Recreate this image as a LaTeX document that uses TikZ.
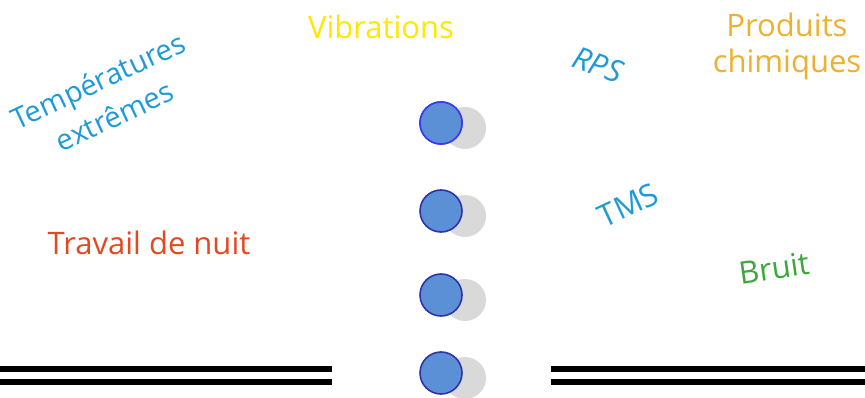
\documentclass[tikz,border=0pt]{standalone}
\usepackage{fontspec}
\setmainfont{Open Sans}
\usepackage{tikz}

\definecolor{knobblue}{HTML}{5B8FD6}
\definecolor{knobedge}{HTML}{2E33A8}
\definecolor{rimblue}{HTML}{3A3AF5}
\definecolor{skyblue}{HTML}{1E9AD8}
\definecolor{sunyellow}{HTML}{FFE800}
\definecolor{amber}{HTML}{EFB030}
\definecolor{brick}{HTML}{E2491F}
\definecolor{leaf}{HTML}{3CA83A}

\begin{document}
\begin{tikzpicture}[x=1pt,y=-1pt,
    knob/.style={circle,fill=knobblue,draw=knobedge,line width=1.6pt,minimum size=42pt,inner sep=0pt},
    shade/.style={circle,fill=black!15,minimum size=42pt,inner sep=0pt},
    word/.style={font=\fontsize{31}{36}\selectfont,align=center,inner sep=0pt}]
    \useasboundingbox (0,0) rectangle (865,398);
    % shadows then knobs
    \foreach \y [count=\i] in {123,211,295,373} {
        \node[shade] (s\i) at (465,\y+5) {};
        \node[knob] (k\i) at (441,\y) {};
    }
    \node[knob,draw=rimblue] at (k1) {};
    % rails
    \draw[line width=6pt] (0,369) -- (332,369);
    \draw[line width=6pt] (0,381.5) -- (332,381.5);
    \draw[line width=6pt] (551,369) -- (865,369);
    \draw[line width=6pt] (551,381.5) -- (865,381.5);
    % words
    \node[word,text=sunyellow] (vib) at (381,27) {Vibrations};
    \node[word,text=skyblue,rotate=25,font=\fontsize{29}{39}\selectfont] (temp) at (106,98) {Températures\\extrêmes};
    \node[word,text=skyblue,rotate=-20,font=\fontsize{31}{36}\selectfont\itshape] (rps) at (598,65) {RPS};
    \node[word,text=amber] (chim) at (787,46) {Produits\\chimiques};
    \node[word,text=skyblue,rotate=25] (tms) at (628,205) {TMS};
    \node[word,text=brick] (nuit) at (149,243) {Travail de nuit};
    \node[word,text=leaf,rotate=8] (bruit) at (774,268) {Bruit};
\end{tikzpicture}
\end{document}
